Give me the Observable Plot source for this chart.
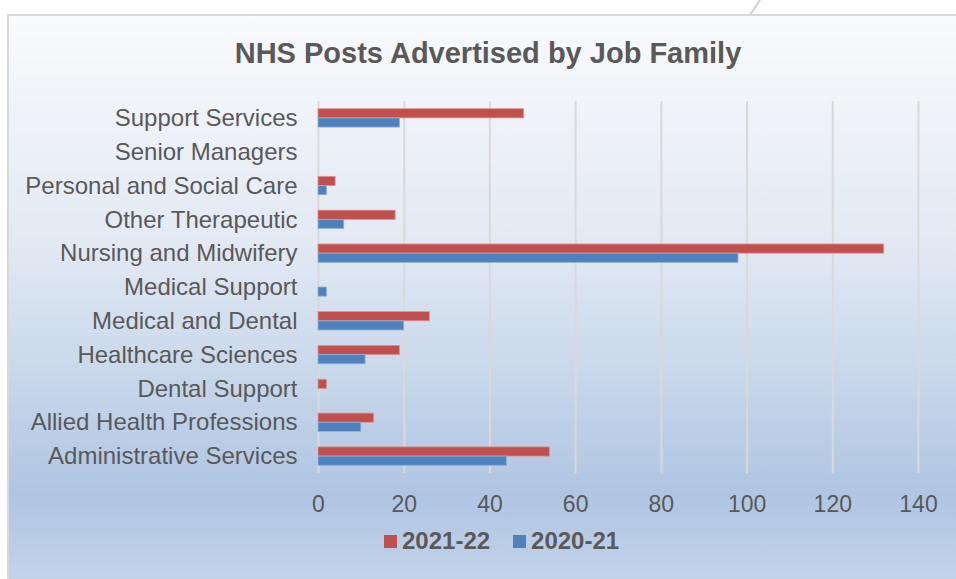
<!DOCTYPE html>
<html>
<head>
<meta charset="utf-8">
<script src="https://cdn.jsdelivr.net/npm/d3@7"></script>
<script src="https://cdn.jsdelivr.net/npm/@observablehq/plot@0.6"></script>
<style>
  html, body { margin: 0; padding: 0; background: #ffffff; }
  body { width: 956px; height: 579px; position: relative; overflow: hidden; font-family: "Liberation Sans", Arial, sans-serif; }
  #frame {
    position: absolute; left: 7px; top: 14px; width: 960px; height: 570px;
    border-left: 2px solid #d9d9d9; border-top: 2px solid #d9d9d9;
    background: linear-gradient(to bottom, #f9fafc 0%, #e2e9f3 40%, #c9d8eb 62%, #afc5e2 84%, #c4d4ea 100%);
  }
  #deco { position: absolute; left: 0; top: 0; }
  #title {
    position: absolute; left: 0; width: 976px; top: 35px; text-align: center;
    font-weight: bold; font-size: 29px; color: #595959; line-height: 36px;
  }
  #chart { position: absolute; left: 0; top: 90px; }
  #legend {
    position: absolute; left: 384px; top: 527px; display: flex; align-items: center;
    font-weight: bold; font-size: 24px; color: #595959; line-height: 28px;
  }
  #legend .sw { width: 13px; height: 13px; display: inline-block; margin-right: 5px; }
  #legend .item { display: flex; align-items: center; margin-right: 23px; }
</style>
</head>
<body>
<svg id="deco" width="956" height="20"><line x1="750" y1="15" x2="760" y2="0" stroke="#d0d0d0" stroke-width="2"/></svg>
<div id="frame"></div>
<div id="title">NHS Posts Advertised by Job Family</div>
<div id="chart"></div>
<div id="legend"></div>
<script>
// Categories top-to-bottom as shown
const categories = [
  "Support Services",
  "Senior Managers",
  "Personal and Social Care",
  "Other Therapeutic",
  "Nursing and Midwifery",
  "Medical Support",
  "Medical and Dental",
  "Healthcare Sciences",
  "Dental Support",
  "Allied Health Professions",
  "Administrative Services"
];
const values2122 = [48, 0, 4, 18, 132, 0, 26, 19, 2, 13, 54];
const values2021 = [19, 0, 2, 6, 98, 2, 20, 11, 0, 10, 44];
const seriesNames = ["2021-22", "2020-21"];
const seriesColors = ["#c0504d", "#4f81bd"];
const xTicks = [0, 20, 40, 60, 80, 100, 120, 140];

const data2122 = categories.map((c, i) => ({cat: c, v: values2122[i]}));
const data2021 = categories.map((c, i) => ({cat: c, v: values2021[i]}));

const W = 956, H = 430, mt = 11, mb = 47, ml = 318, mr = 38;
const band = (H - mt - mb) / categories.length;
const barH = 9.2;
const outer = band / 2 - barH;

const chart = Plot.plot({
  width: W, height: H,
  marginLeft: ml, marginRight: mr, marginTop: mt, marginBottom: mb,
  style: {background: "transparent", fontFamily: "'Liberation Sans', Arial, sans-serif", fontSize: "24px", color: "#595959", overflow: "visible"},
  x: {domain: [0, 140], ticks: xTicks},
  y: {domain: categories, padding: 0, round: false},
  marks: [
    Plot.ruleX(xTicks, {stroke: "#d9d9d9", strokeWidth: 2, strokeOpacity: 1}),
    Plot.barX(data2122, {x: "v", y: "cat", fill: seriesColors[0], insetTop: outer, insetBottom: band / 2, stroke: "#d99694", strokeWidth: 0.8}),
    Plot.barX(data2021, {x: "v", y: "cat", fill: seriesColors[1], insetTop: band / 2, insetBottom: outer, stroke: "#95b3d7", strokeWidth: 0.8}),
    Plot.axisX({ticks: xTicks, tickSize: 0, tickPadding: 22, fontSize: 23, label: null, fill: "#595959"}),
    Plot.axisY({tickSize: 0, tickPadding: 21, fontSize: 24, label: null, fill: "#595959"})
  ]
});
document.getElementById("chart").appendChild(chart);

const legend = document.getElementById("legend");
seriesNames.forEach((name, i) => {
  const item = document.createElement("div");
  item.className = "item";
  const sw = document.createElement("span");
  sw.className = "sw";
  sw.style.background = seriesColors[i];
  item.appendChild(sw);
  const t = document.createElement("span");
  t.textContent = name;
  item.appendChild(t);
  legend.appendChild(item);
});
</script>
</body>
</html>
